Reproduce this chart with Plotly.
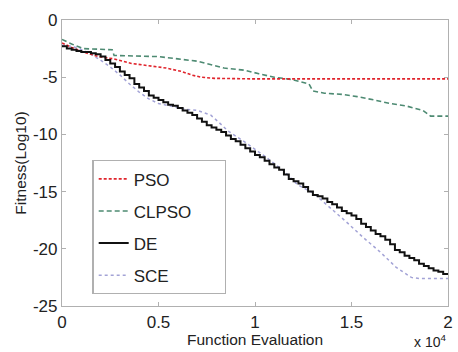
import plotly.graph_objects as go

# Data (x in units of 1e4 function evaluations, y = log10 fitness)
pso_x = [0, 0.05, 0.11, 0.19, 0.27, 0.36, 0.45, 0.54, 0.62, 0.67, 0.72, 0.79, 1.0, 1.5, 2.0]
pso_y = [-2.0, -2.4, -2.8, -3.2, -3.4, -3.8, -4.0, -4.2, -4.5, -4.8, -5.0, -5.1, -5.15, -5.15, -5.15]

clpso_x = [0, 0.05, 0.11, 0.26, 0.27, 0.5, 0.6, 0.7, 0.84, 0.95, 1.02, 1.1, 1.19, 1.28, 1.3,
           1.36, 1.45, 1.53, 1.62, 1.70, 1.78, 1.87, 1.91, 2.0]
clpso_y = [-1.7, -2.1, -2.5, -2.6, -3.1, -3.2, -3.4, -3.6, -4.2, -4.4, -4.7, -5.0, -5.2, -5.6, -6.2,
           -6.4, -6.5, -6.7, -7.0, -7.3, -7.5, -7.9, -8.4, -8.4]

de_x = [0, 0.025, 0.05, 0.075, 0.1, 0.125, 0.15, 0.175, 0.2, 0.225, 0.25, 0.275, 0.3, 0.325, 0.35,
        0.375, 0.4, 0.425, 0.45, 0.475, 0.5, 0.525, 0.55, 0.575, 0.6, 0.625, 0.65, 0.675, 0.7, 0.725,
        0.75, 0.775, 0.8, 0.825, 0.85, 0.875, 0.9, 0.925, 0.95, 0.975, 1.0, 1.025, 1.05, 1.075, 1.1,
        1.125, 1.15, 1.175, 1.2, 1.225, 1.25, 1.275, 1.3, 1.325, 1.35, 1.375, 1.4, 1.425, 1.45, 1.475,
        1.5, 1.525, 1.55, 1.575, 1.6, 1.625, 1.65, 1.675, 1.7, 1.725, 1.75, 1.775, 1.8, 1.825, 1.85,
        1.875, 1.9, 1.925, 1.95, 1.975, 2.0]
de_y = [-2.3, -2.5, -2.6, -2.7, -2.8, -2.8, -2.9, -3.0, -3.2, -3.5, -3.8, -4.1, -4.5, -4.8, -5.1,
        -5.6, -5.9, -6.2, -6.6, -6.8, -7.0, -7.2, -7.4, -7.5, -7.7, -7.9, -8.1, -8.3, -8.6, -8.9,
        -9.2, -9.4, -9.6, -9.8, -10.1, -10.4, -10.6, -10.9, -11.2, -11.5, -11.8, -12.0, -12.3, -12.6, -12.9,
        -13.1, -13.5, -13.9, -14.1, -14.3, -14.6, -15.0, -15.3, -15.4, -15.6, -15.9, -16.1, -16.4, -16.7, -16.9,
        -17.1, -17.4, -17.8, -18.1, -18.4, -18.7, -18.9, -19.2, -19.6, -20.1, -20.3, -20.6, -20.8, -21.0, -21.3,
        -21.5, -21.7, -21.9, -22.0, -22.2, -22.3]

sce_x = [0, 0.05, 0.09, 0.14, 0.19, 0.25, 0.30, 0.35, 0.40, 0.45, 0.50, 0.55, 0.60, 0.64, 0.70,
         0.77, 0.81, 0.86, 0.95, 1.05, 1.15, 1.22, 1.30, 1.39, 1.47, 1.56, 1.65, 1.73, 1.78, 1.81,
         1.85, 1.90, 1.97, 2.0]
sce_y = [-2.2, -2.3, -2.5, -2.9, -3.4, -4.1, -4.8, -5.6, -6.3, -6.9, -7.3, -7.5, -7.7, -7.8, -7.9,
         -8.3, -8.9, -9.7, -10.7, -11.9, -13.2, -14.4, -15.1, -16.4, -17.6, -19.0, -20.3, -21.6, -22.2, -22.5,
         -22.6, -22.6, -22.6, -22.6]

x_ticks = [0, 0.5, 1, 1.5, 2]
x_tick_text = ["0", "0.5", "1", "1.5", "2"]
y_ticks = [0, -5, -10, -15, -20, -25]
y_tick_text = ["0", "-5", "-10", "-15", "-20", "-25"]

FONT = "Liberation Sans, Arial"
# invisible spacer so the legend box is as wide as in the reference
pad = "<span style='color:rgba(255,255,255,0)'>mm</span>"

fig = go.Figure()
fig.add_trace(go.Scatter(x=sce_x, y=sce_y, mode="lines", name="SCE", legendrank=4, legendgroup="d",
                         line=dict(color="#a3a3d6", width=1.5, dash="dot")))
fig.add_trace(go.Scatter(x=clpso_x, y=clpso_y, mode="lines", name="CLPSO" + pad, legendrank=2, legendgroup="b",
                         line=dict(color="#4d8a72", width=1.6, dash="5px,3px")))
fig.add_trace(go.Scatter(x=pso_x, y=pso_y, mode="lines", name="PSO", legendrank=1, legendgroup="a",
                         line=dict(color="#e0242c", width=1.6, dash="3px,2px")))
fig.add_trace(go.Scatter(x=de_x, y=de_y, mode="lines", name="DE", legendrank=3, legendgroup="c",
                         line=dict(color="#111111", width=2, shape="hv")))

axis_common = dict(showline=True, linecolor="#b0b0b0", linewidth=1.2, mirror="ticks",
                   ticks="inside", ticklen=4, tickcolor="#b0b0b0", showgrid=False, zeroline=False,
                   tickfont=dict(family=FONT, size=17, color="#222"))

fig.update_xaxes(range=[0, 2], tickvals=x_ticks, ticktext=x_tick_text,
                 title=dict(text="Function Evaluation", standoff=2,
                            font=dict(family=FONT, size=15.5, color="#222")),
                 **axis_common)
fig.update_yaxes(range=[-25, 0], tickvals=y_ticks, ticktext=y_tick_text,
                 title=dict(text="Fitness(Log10)", standoff=2,
                            font=dict(family=FONT, size=15.5, color="#222")),
                 **axis_common)

fig.add_annotation(xref="paper", yref="paper", x=1.0, y=-0.085, xanchor="right", yanchor="top",
                   text="x 10<sup>4</sup>", showarrow=False,
                   font=dict(family=FONT, size=14, color="#222"))

fig.update_layout(
    width=458, height=352,
    margin=dict(l=62, r=5, t=20, b=46),
    paper_bgcolor="white", plot_bgcolor="white",
    showlegend=True,
    legend=dict(x=0.079, y=0.51, xanchor="left", yanchor="top",
                bgcolor="white", bordercolor="#b0b0b0", borderwidth=1.2,
                tracegroupgap=7,
                font=dict(family=FONT, size=17, color="#222")),
)

fig.write_html("out.html")
